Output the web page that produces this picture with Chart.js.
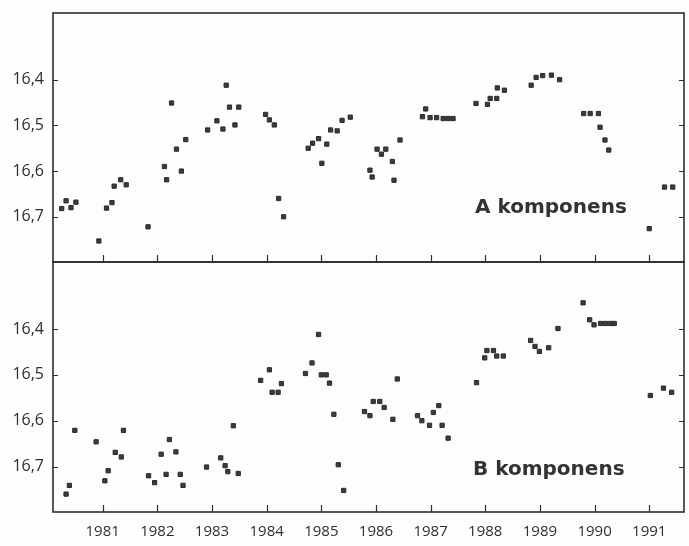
<!DOCTYPE html>
<html>
<head>
<meta charset="utf-8">
<script src="https://cdn.jsdelivr.net/npm/chart.js@4/dist/chart.umd.min.js"></script>
<style>
html, body { margin: 0; padding: 0; background: #fff; }
#wrap { position: relative; width: 689px; height: 546px; overflow: hidden; background: #fdfdfb; }
canvas { position: absolute; left: 0; }
#chartA { top: 0; }
#chartB { top: 254px; }
</style>
</head>
<body>
<div id="wrap">
  <canvas id="chartA" width="689" height="270"></canvas>
  <canvas id="chartB" width="689" height="292"></canvas>
</div>
<script>
// tick labels
const years = [1981, 1982, 1983, 1984, 1985, 1986, 1987, 1988, 1989, 1990, 1991];
const magTicks = [16.4, 16.5, 16.6, 16.7];

// A komponens
const aYears = [1980.25,1980.33,1980.42,1980.51,1980.93,1981.07,1981.17,1981.21,1981.33,1981.43,
  1981.83,1982.13,1982.17,1982.26,1982.35,1982.44,1982.52,1982.92,1983.09,1983.20,
  1983.26,1983.32,1983.42,1983.49,1983.98,1984.05,1984.14,1984.22,1984.31,1984.76,
  1984.84,1984.95,1985.01,1985.10,1985.17,1985.29,1985.38,1985.53,1985.89,1985.93,
  1986.02,1986.10,1986.18,1986.30,1986.33,1986.44,1986.85,1986.91,1986.99,1987.11,
  1987.23,1987.32,1987.41,1987.83,1988.04,1988.09,1988.21,1988.22,1988.35,1988.84,
  1988.93,1989.05,1989.21,1989.36,1989.80,1989.92,1990.07,1990.10,1990.19,1990.26,
  1991.00,1991.28,1991.43];
const aMags = [16.682,16.665,16.680,16.668,16.753,16.681,16.669,16.633,16.619,16.630,
  16.722,16.590,16.619,16.451,16.552,16.600,16.531,16.510,16.490,16.508,
  16.412,16.460,16.499,16.460,16.476,16.488,16.499,16.660,16.700,16.550,
  16.539,16.529,16.583,16.541,16.510,16.512,16.489,16.482,16.598,16.613,
  16.552,16.563,16.552,16.579,16.620,16.532,16.481,16.464,16.483,16.483,
  16.485,16.485,16.485,16.452,16.454,16.441,16.441,16.418,16.423,16.412,
  16.395,16.391,16.390,16.400,16.474,16.474,16.474,16.504,16.532,16.554,
  16.726,16.635,16.635];

// B komponens
const bYears = [1980.33,1980.39,1980.49,1980.88,1981.04,1981.10,1981.23,1981.34,1981.38,1981.84,
  1981.95,1982.07,1982.16,1982.22,1982.34,1982.42,1982.47,1982.90,1983.16,1983.24,
  1983.29,1983.39,1983.48,1983.89,1984.05,1984.10,1984.21,1984.27,1984.71,1984.83,
  1984.95,1985.00,1985.09,1985.15,1985.23,1985.31,1985.41,1985.79,1985.89,1985.95,
  1986.07,1986.15,1986.31,1986.39,1986.76,1986.84,1986.98,1987.05,1987.15,1987.21,
  1987.32,1987.84,1987.99,1988.03,1988.15,1988.21,1988.33,1988.83,1988.91,1988.99,
  1989.16,1989.33,1989.79,1989.91,1989.99,1990.11,1990.20,1990.29,1990.36,1991.02,
  1991.26,1991.41];
const bMags = [16.760,16.741,16.621,16.646,16.731,16.709,16.669,16.679,16.621,16.720,
  16.735,16.673,16.717,16.641,16.668,16.717,16.741,16.701,16.681,16.698,
  16.711,16.611,16.715,16.512,16.489,16.538,16.538,16.519,16.497,16.474,
  16.412,16.500,16.500,16.518,16.586,16.696,16.752,16.580,16.589,16.558,
  16.558,16.571,16.597,16.509,16.589,16.600,16.610,16.582,16.567,16.610,
  16.638,16.517,16.463,16.447,16.447,16.459,16.459,16.425,16.438,16.449,
  16.441,16.399,16.343,16.380,16.391,16.388,16.388,16.388,16.388,16.545,
  16.529,16.538];

const ink = '#2e2e2e';

// frame, inward ticks and panel label
const framePlugin = {
  id: 'frame',
  afterDraw(chart, args, opts) {
    const ctx = chart.ctx;
    const a = chart.chartArea;
    const sx = chart.scales.x, sy = chart.scales.y;
    ctx.save();
    ctx.strokeStyle = ink;
    ctx.lineWidth = 1.6;
    ctx.strokeRect(a.left, a.top, a.right - a.left, a.bottom - a.top);
    ctx.lineWidth = 1.2;
    ctx.beginPath();
    years.forEach(v => {
      const x = Math.round(sx.getPixelForValue(v)) + 0.5;
      ctx.moveTo(x, a.bottom);
      ctx.lineTo(x, a.bottom - 7);
    });
    magTicks.forEach(v => {
      const y = Math.round(sy.getPixelForValue(v)) + 0.5;
      ctx.moveTo(a.left, y);
      ctx.lineTo(a.left + 5, y);
      ctx.moveTo(a.right, y);
      ctx.lineTo(a.right - 5, y);
    });
    ctx.stroke();
    ctx.font = 'bold 20px "DejaVu Sans"';
    ctx.fillStyle = '#333';
    ctx.textBaseline = 'alphabetic';
    ctx.fillText(opts.label, opts.lx, a.top + opts.ly);
    ctx.restore();
  }
};

function makeChart(id, xs, ys, showX, pad, label, lx, ly) {
  const pts = xs.map((x, i) => ({ x: x, y: ys[i] }));
  return new Chart(document.getElementById(id), {
    type: 'scatter',
    data: {
      datasets: [{
        data: pts,
        pointStyle: 'rect',
        pointRadius: 3,
        borderWidth: 1,
        borderColor: '#2a2a2a',
        backgroundColor: '#3c3c3c'
      }]
    },
    options: {
      responsive: false,
      animation: false,
      devicePixelRatio: 1,
      layout: { padding: pad },
      plugins: {
        legend: { display: false },
        tooltip: { enabled: false },
        frame: { label: label, lx: lx, ly: ly }
      },
      scales: {
        x: {
          type: 'linear',
          min: 1980.091,
          max: 1991.636,
          display: showX,
          afterBuildTicks: s => { s.ticks = years.map(v => ({ value: v })); },
          afterFit: s => {
            s.height = showX ? 34 : 0;
            s.paddingLeft = 0;
            s.paddingRight = 0;
          },
          grid: { display: false, drawTicks: false },
          border: { display: false },
          ticks: {
            padding: 11,
            color: ink,
            font: { family: '"Open Sans"', size: 15 },
            callback: v => String(v)
          }
        },
        y: {
          type: 'linear',
          reverse: true,
          min: 16.254,
          max: 16.799,
          afterBuildTicks: s => { s.ticks = magTicks.map(v => ({ value: v })); },
          afterFit: s => {
            s.width = 53;
            s.paddingTop = 0;
            s.paddingBottom = 0;
          },
          grid: { display: false, drawTicks: false },
          border: { display: false },
          ticks: {
            padding: 9,
            color: ink,
            font: { family: '"Open Sans"', size: 16 },
            callback: v => v.toFixed(1).replace('.', ',')
          }
        }
      }
    },
    plugins: [framePlugin]
  });
}

makeChart('chartA', aYears, aMags, false, { top: 13, right: 1, bottom: 8, left: 0 }, 'A komponens', 475, 200);
makeChart('chartB', bYears, bMags, true, { top: 8, right: 1, bottom: 0, left: 0 }, 'B komponens', 473, 213);
</script>
</body>
</html>
